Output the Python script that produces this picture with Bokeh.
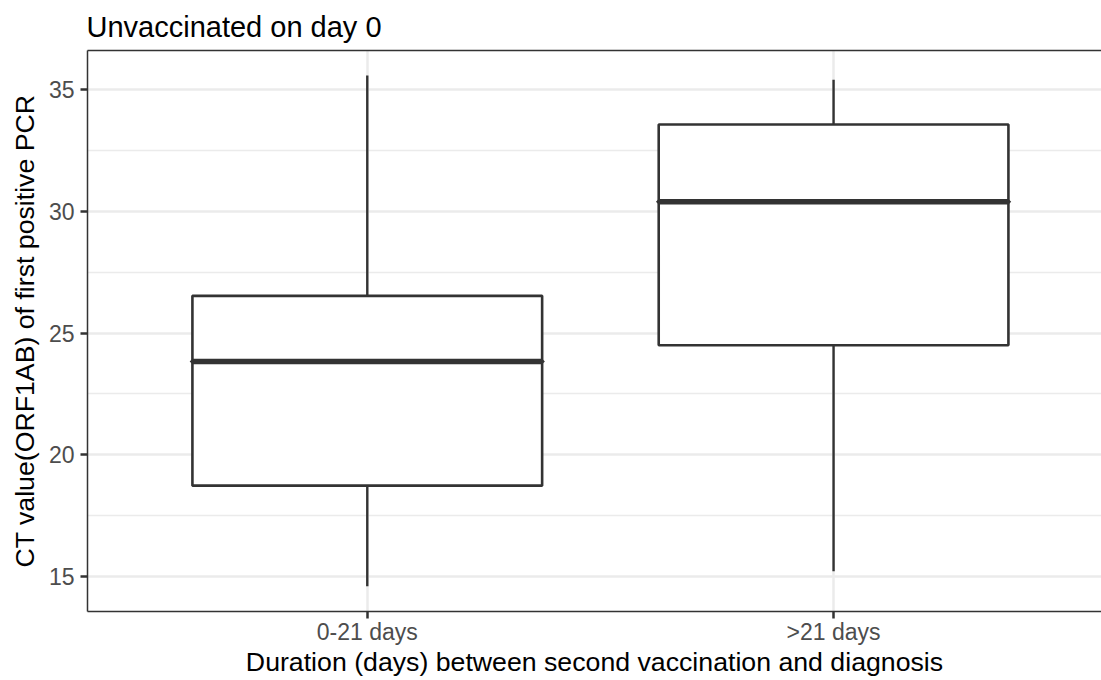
from bokeh.plotting import figure
from bokeh.models import Range1d, FixedTicker, LinearAxis
from bokeh.embed import file_html
from bokeh.resources import INLINE

categories = ["0-21 days", ">21 days"]
lower_whisker = [14.58, 15.2]
q1 = [18.72, 24.5]
median = [23.83, 30.4]
q3 = [26.53, 33.58]
upper_whisker = [35.6, 35.42]
y_ticks = [15, 20, 25, 30, 35]
y_minor = [17.5, 22.5, 27.5, 32.5]

FONT = "Liberation Sans"
DARK = "#333333"

xpos = [i + 1 for i in range(len(categories))]

p = figure(width=1101, height=680, output_backend="svg", toolbar_location=None,
           x_range=Range1d(0.4, 2.5746), y_range=Range1d(13.542, 36.625),
           min_border_left=87, min_border_right=0, min_border_top=0, min_border_bottom=69,
           title="Unvaccinated on day 0")
p.background_fill_color = "white"
p.border_fill_color = "white"
p.outline_line_color = None

p.title.text_font = FONT
p.title.text_font_size = "29px"
p.title.text_font_style = "normal"
p.title.text_color = "black"
p.title.offset = -1
p.title.standoff = 16

xa = p.below[0]
ya = p.left[0]

# top panel border (an axis without ticks or labels)
top_axis = LinearAxis(ticker=FixedTicker(ticks=[]), axis_line_color=DARK, axis_line_width=1.5,
                      major_tick_out=13, major_tick_in=0, major_tick_line_color=None,
                      minor_tick_line_color=None, major_label_standoff=0, axis_label_standoff=0)
p.add_layout(top_axis, "above")

# grids
p.xgrid.ticker = FixedTicker(ticks=xpos)
p.xgrid.grid_line_color = "#EBEBEB"
p.xgrid.grid_line_width = 2.5
p.ygrid.ticker = FixedTicker(ticks=y_ticks, minor_ticks=y_minor)
p.ygrid.grid_line_color = "#EBEBEB"
p.ygrid.grid_line_width = 2.5
p.ygrid.minor_grid_line_color = "#EBEBEB"
p.ygrid.minor_grid_line_width = 1.3

# axes
xa.ticker = FixedTicker(ticks=xpos)
xa.major_label_overrides = {x: c for x, c in zip(xpos, categories)}
ya.ticker = FixedTicker(ticks=y_ticks, minor_ticks=y_minor)
for ax in (xa, ya):
    ax.axis_line_color = DARK
    ax.axis_line_width = 1.5
    ax.major_tick_line_color = DARK
    ax.major_tick_line_width = 2.5
    ax.major_tick_out = 7
    ax.major_tick_in = 0
    ax.minor_tick_line_color = None
    ax.major_label_text_font = FONT
    ax.major_label_text_font_size = "23px"
    ax.major_label_text_color = "#4D4D4D"
    ax.axis_label_text_font = FONT
    ax.axis_label_text_font_size = "26.7px"
    ax.axis_label_text_font_style = "normal"
    ax.axis_label_text_color = "black"
xa.axis_label = "Duration (days) between second vaccination and diagnosis"
ya.axis_label = "CT value(ORF1AB) of first positive PCR"
xa.major_label_standoff = 0
xa.axis_label_standoff = -1
ya.major_label_standoff = 6
ya.axis_label_standoff = 6

# whiskers
p.segment(x0=xpos, y0=lower_whisker, x1=xpos, y1=q1, line_color=DARK, line_width=2.4)
p.segment(x0=xpos, y0=q3, x1=xpos, y1=upper_whisker, line_color=DARK, line_width=2.4)
# boxes
p.vbar(x=xpos, width=0.75, bottom=q1, top=q3, fill_color="white", line_color=DARK, line_width=2.6)
# medians
p.hbar(y=median, left=[x - 0.375 for x in xpos], right=[x + 0.375 for x in xpos], height=0.0001,
       line_color=DARK, line_width=5.5)

open("out.html", "w").write(file_html(p, INLINE))
